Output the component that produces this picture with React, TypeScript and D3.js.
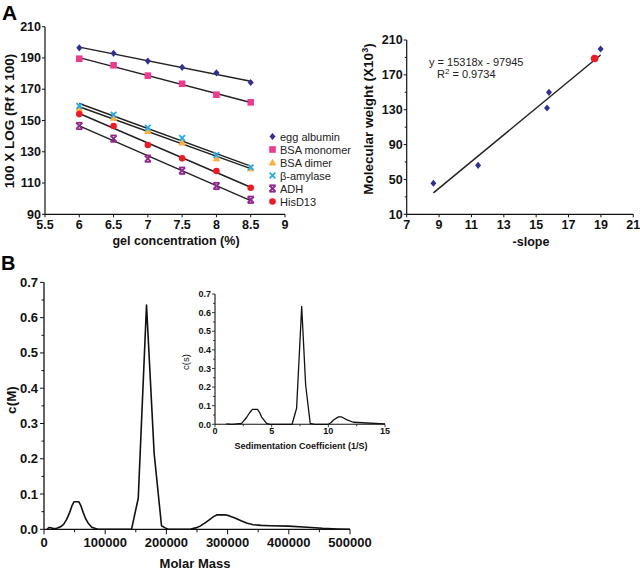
import React from 'react';
import * as d3 from 'd3';

const FONT = '"Liberation Sans", Arial, Helvetica, sans-serif';

// ---------- Panel A (left): gel concentration vs 100 x log(Rf x 100)
const gelConc = [6, 6.5, 7, 7.5, 8, 8.5];
const eggAlbumin = [196.5, 193, 188, 184, 180.5, 174.3];
const bsaMonomer = [189.5, 185.3, 178.7, 173.5, 166.5, 161.6];
const bsaDimer = [157.8, 151.8, 143.3, 136, 125.8, 119.4];
const betaAmylase = [159.3, 153.7, 145.4, 138.8, 127.9, 120];
const adh = [146.5, 138.4, 125.6, 117.9, 108.1, 99.3];
const hisD13 = [154.1, 146.5, 134.3, 125.8, 117.7, 107];
const seriesNames = ['egg albumin', 'BSA monomer', 'BSA dimer', 'β-amylase', 'ADH', 'HisD13'];
const seriesColors = ['#2E3192', '#EC3C8E', '#FBB040', '#27AAE1', '#92278F', '#ED1C24'];
const seriesMarkers = ['diamond', 'square', 'triangle', 'x', 'star', 'circle'];
const gelXTicks = [5.5, 6, 6.5, 7, 7.5, 8, 8.5, 9];
const logYTicks = [90, 110, 130, 150, 170, 190, 210];

// ---------- Panel A (right): -slope vs molecular weight
const negSlope = [8.65, 11.41, 15.67, 15.79, 18.98];
const molWeight = [45.6, 66.2, 132, 150, 199.7];
const hisNegSlope = [18.61];
const hisMolWeight = [188.7];
const fitSlope = 15318;
const fitIntercept = -97945;
const slopeXTicks = [7, 9, 11, 13, 15, 17, 19, 21];
const mwYTicks = [10, 50, 90, 130, 170, 210];

// ---------- Panel B: c(M) distribution
const molarMass = [5000, 8000, 12000, 15000, 21000, 27000, 32000, 37000, 42000, 46000, 49000, 57000, 60000, 64000, 68000, 72000, 78000, 88000, 143000, 154000, 167500, 180000, 192000, 198000, 203000, 228000, 240000, 248000, 255000, 262000, 270000, 277000, 283000, 296000, 303000, 312000, 322000, 332000, 342000, 355000, 370000, 400000, 430000, 455000, 480000, 500000];
const cM = [0, 0.005, 0.004, 0.002, 0.003, 0.007, 0.014, 0.028, 0.048, 0.068, 0.078, 0.078, 0.068, 0.048, 0.03, 0.018, 0.006, 0, 0, 0.088, 0.636, 0.215, 0.01, 0.004, 0, 0, 0.001, 0.004, 0.009, 0.017, 0.027, 0.036, 0.041, 0.041, 0.038, 0.032, 0.024, 0.017, 0.013, 0.011, 0.01, 0.009, 0.006, 0.003, 0.001, 0];
const massXTicks = [0, 100000, 200000, 300000, 400000, 500000];
const cYTicks = [0, 0.1, 0.2, 0.3, 0.4, 0.5, 0.6, 0.7];

// ---------- Inset: c(s) distribution
const sedCoef = [1.0, 1.5, 2.35, 2.8, 3.05, 3.3, 3.75, 3.95, 4.1, 4.55, 4.85, 6.8, 7.2, 7.65, 8.0, 8.4, 8.8, 10.0, 10.25, 10.45, 10.9, 11.15, 11.35, 11.6, 12.2, 13.4, 14.55, 15];
const cS = [0.002, 0.0, 0.005, 0.038, 0.062, 0.08, 0.08, 0.062, 0.04, 0.005, 0, 0, 0.086, 0.633, 0.21, 0.005, 0, 0, 0.01, 0.023, 0.04, 0.04, 0.034, 0.025, 0.011, 0.007, 0.004, 0.002];
const sXTicks = [0, 5, 10, 15];
const sYTicks = [0, 0.1, 0.2, 0.3, 0.4, 0.5, 0.6, 0.7];

function linFit(xs: number[], ys: number[]) {
  const mx = d3.mean(xs) as number;
  const my = d3.mean(ys) as number;
  let num = 0, den = 0;
  xs.forEach((x, i) => { num += (x - mx) * (ys[i] - my); den += (x - mx) * (x - mx); });
  const b = num / den;
  return { b, a: my - b * mx };
}

function Marker({ type, x, y, color }: { type: string; x: number; y: number; color: string }) {
  switch (type) {
    case 'diamond':
      return <polygon points={`${x},${y - 3.6} ${x + 3},${y} ${x},${y + 3.6} ${x - 3},${y}`} fill={color} />;
    case 'square':
      return <rect x={x - 3.3} y={y - 3.3} width={6.6} height={6.6} fill={color} />;
    case 'triangle':
      return <polygon points={`${x},${y - 4} ${x + 3.8},${y + 3} ${x - 3.8},${y + 3}`} fill={color} />;
    case 'x':
      return (
        <g stroke={color} strokeWidth={1.8}>
          <line x1={x - 2.8} y1={y - 2.8} x2={x + 2.8} y2={y + 2.8} />
          <line x1={x - 2.8} y1={y + 2.8} x2={x + 2.8} y2={y - 2.8} />
        </g>
      );
    case 'star':
      return (
        <g stroke={color} strokeWidth={1.8}>
          <line x1={x - 3} y1={y - 3} x2={x + 3} y2={y + 3} />
          <line x1={x - 3} y1={y + 3} x2={x + 3} y2={y - 3} />
          <line x1={x - 3} y1={y - 3.2} x2={x + 3} y2={y - 3.2} />
          <line x1={x - 3} y1={y + 3.2} x2={x + 3} y2={y + 3.2} />
        </g>
      );
    default:
      return <circle cx={x} cy={y} r={3.3} fill={color} />;
  }
}

export default function App() {
  // Panel A left
  const xA1 = d3.scaleLinear().domain([5.5, 9]).range([45, 285]);
  const yA1 = d3.scaleLinear().domain([90, 210]).range([214.3, 26.7]);
  const seriesA1 = [eggAlbumin, bsaMonomer, bsaDimer, betaAmylase, adh, hisD13];

  // Panel A right
  const xA2 = d3.scaleLinear().domain([7, 21]).range([406.7, 633.3]);
  const yA2 = d3.scaleLinear().domain([10, 210]).range([214.3, 40]);
  const fitX0 = d3.min(negSlope) as number;
  const fitX1 = d3.max(negSlope) as number;
  const fitY = (x: number) => (fitSlope * x + fitIntercept) / 1000;

  // Panel B
  const xB = d3.scaleLinear().domain([0, 500000]).range([44, 350]);
  const yB = d3.scaleLinear().domain([0, 0.7]).range([529.3, 282.4]);
  const lineB = d3.line<number>().x((d, i) => xB(molarMass[i])).y((d) => yB(d)).curve(d3.curveLinear);

  // Inset
  const xI = d3.scaleLinear().domain([0, 15]).range([215, 385]);
  const yI = d3.scaleLinear().domain([0, 0.7]).range([424.3, 294]);
  const lineI = d3.line<number>().x((d, i) => xI(sedCoef[i])).y((d) => yI(d)).curve(d3.curveLinear);

  const axisStroke = '#111';

  return (
    <svg width={640} height={573} style={{ position: 'absolute', left: 0, top: 0, background: '#fff' }} fontFamily={FONT}>
      <rect x={0} y={0} width={640} height={573} fill="#fff" />
      {/* Panel labels */}
      <text x={2} y={20} fontSize={21} fontWeight="bold" fill="#000">A</text>
      <text x={1} y={270} fontSize={20} fontWeight="bold" fill="#000">B</text>

      {/* ===== Panel A left ===== */}
      <g>
        <line x1={xA1(5.5)} y1={yA1(90)} x2={xA1(9)} y2={yA1(90)} stroke={axisStroke} strokeWidth={1.2} />
        <line x1={xA1(5.5)} y1={yA1(90)} x2={xA1(5.5)} y2={yA1(210)} stroke={axisStroke} strokeWidth={1.2} />
        {logYTicks.map((t) => (
          <g key={'ya1' + t}>
            <line x1={xA1(5.5) - 3} x2={xA1(5.5)} y1={yA1(t)} y2={yA1(t)} stroke={axisStroke} strokeWidth={1} />
            <text x={xA1(5.5) - 4} y={yA1(t) + 4.2} fontSize={12.5} fontWeight="bold" textAnchor="end" fill="#111">{t}</text>
          </g>
        ))}
        {gelXTicks.map((t) => (
          <g key={'xa1' + t}>
            <line x1={xA1(t)} x2={xA1(t)} y1={yA1(90)} y2={yA1(90) + 3} stroke={axisStroke} strokeWidth={1} />
            <text x={xA1(t)} y={yA1(90) + 14.2} fontSize={12.5} fontWeight="bold" textAnchor="middle" fill="#111">{t}</text>
          </g>
        ))}
        <text x={176} y={245} fontSize={12.5} fontWeight="bold" textAnchor="middle" fill="#111">gel concentration (%)</text>
        <text transform="translate(14,121) rotate(-90)" fontSize={13.5} fontWeight="bold" textAnchor="middle" fill="#111">100 X LOG (Rf X 100)</text>

        {seriesA1.map((ys, si) => {
          const { a, b } = linFit(gelConc, ys);
          const x0 = gelConc[0], x1 = gelConc[gelConc.length - 1];
          return (
            <line key={'fit' + si} x1={xA1(x0)} y1={yA1(a + b * x0)} x2={xA1(x1)} y2={yA1(a + b * x1)} stroke="#222" strokeWidth={1.5} />
          );
        })}
        {seriesA1.map((ys, si) =>
          ys.map((v, i) => (
            <Marker key={`m${si}-${i}`} type={seriesMarkers[si]} x={xA1(gelConc[i])} y={yA1(v)} color={seriesColors[si]} />
          ))
        )}
        {/* Legend */}
        {seriesNames.map((n, i) => (
          <g key={'lg' + i}>
            <Marker type={seriesMarkers[i]} x={272.5} y={136.5 + i * 13} color={seriesColors[i]} />
            <text x={280} y={136.5 + i * 13 + 4} fontSize={11} fill="#222">{n}</text>
          </g>
        ))}
      </g>

      {/* ===== Panel A right ===== */}
      <g>
        <line x1={xA2(7)} y1={yA2(10)} x2={xA2(21)} y2={yA2(10)} stroke={axisStroke} strokeWidth={1.2} />
        <line x1={xA2(7)} y1={yA2(10)} x2={xA2(7)} y2={yA2(210)} stroke={axisStroke} strokeWidth={1.2} />
        {d3.range(10, 211, 20).map((t) => (
          <line key={'ya2m' + t} x1={xA2(7) - (mwYTicks.includes(t) ? 3 : 2)} x2={xA2(7)} y1={yA2(t)} y2={yA2(t)} stroke={axisStroke} strokeWidth={1} />
        ))}
        {mwYTicks.map((t) => (
          <text key={'ya2' + t} x={xA2(7) - 4} y={yA2(t) + 4.2} fontSize={12.5} fontWeight="bold" textAnchor="end" fill="#111">{t}</text>
        ))}
        {slopeXTicks.map((t) => (
          <g key={'xa2' + t}>
            <line x1={xA2(t)} x2={xA2(t)} y1={yA2(10)} y2={yA2(10) + 3} stroke={axisStroke} strokeWidth={1} />
            <text x={xA2(t)} y={yA2(10) + 14.2} fontSize={12.5} fontWeight="bold" textAnchor="middle" fill="#111">{t}</text>
          </g>
        ))}
        <text x={531} y={246} fontSize={12.5} fontWeight="bold" textAnchor="middle" fill="#111">-slope</text>
        <text transform="translate(373,119) rotate(-90)" fontSize={13.5} fontWeight="bold" textAnchor="middle" fill="#111">
          Molecular weight (X10<tspan fontSize={9} dy={-5}>3</tspan><tspan dy={5}>)</tspan>
        </text>
        <line x1={xA2(fitX0)} y1={yA2(fitY(fitX0))} x2={xA2(fitX1)} y2={yA2(fitY(fitX1))} stroke="#222" strokeWidth={1.5} />
        {negSlope.map((s, i) => (
          <Marker key={'a2' + i} type="diamond" x={xA2(s)} y={yA2(molWeight[i])} color="#2E3192" />
        ))}
        {hisNegSlope.map((s, i) => (
          <circle key={'a2h' + i} cx={xA2(s)} cy={yA2(hisMolWeight[i])} r={3.8} fill="#ED1C24" />
        ))}
        <text x={429} y={66} fontSize={11} fill="#222">y = 15318x - 97945</text>
        <text x={437} y={78} fontSize={11} fill="#222">R<tspan fontSize={8} dy={-4}>2</tspan><tspan dy={4}> = 0.9734</tspan></text>
      </g>

      {/* ===== Panel B main ===== */}
      <g>
        <line x1={xB(0)} y1={yB(0)} x2={xB(500000)} y2={yB(0)} stroke={axisStroke} strokeWidth={1.3} />
        <line x1={xB(0)} y1={yB(0)} x2={xB(0)} y2={yB(0.7)} stroke={axisStroke} strokeWidth={1.3} />
        {d3.range(0, 0.701, 0.05).map((t, i) => (
          <line key={'ybm' + i} x1={xB(0) - (i % 2 === 0 ? 4 : 2.5)} x2={xB(0)} y1={yB(t)} y2={yB(t)} stroke={axisStroke} strokeWidth={1} />
        ))}
        {cYTicks.map((t) => (
          <text key={'yb' + t} x={xB(0) - 6} y={yB(t) + 4.5} fontSize={13} fontWeight="bold" textAnchor="end" fill="#111">{t.toFixed(1)}</text>
        ))}
        {d3.range(0, 500001, 50000).map((t, i) => (
          <line key={'xbm' + i} x1={xB(t)} x2={xB(t)} y1={yB(0)} y2={yB(0) + (i % 2 === 0 ? 5 : 3)} stroke={axisStroke} strokeWidth={1} />
        ))}
        {massXTicks.map((t) => (
          <text key={'xb' + t} x={xB(t)} y={547} fontSize={13} fontWeight="bold" textAnchor="middle" fill="#111">{t}</text>
        ))}
        <text x={195} y={568} fontSize={13} fontWeight="bold" textAnchor="middle" fill="#111">Molar Mass</text>
        <text transform="translate(16,400) rotate(-90)" fontSize={13.5} fontWeight="bold" textAnchor="middle" fill="#111">c(M)</text>
        <path d={lineB(cM) || ''} fill="none" stroke="#111" strokeWidth={1.6} strokeLinejoin="round" />
      </g>

      {/* ===== Inset ===== */}
      <g>
        <line x1={xI(0)} y1={yI(0)} x2={xI(15)} y2={yI(0)} stroke={axisStroke} strokeWidth={1.1} />
        <line x1={xI(0)} y1={yI(0)} x2={xI(0)} y2={yI(0.7)} stroke={axisStroke} strokeWidth={1.1} />
        {d3.range(0, 0.701, 0.05).map((t, i) => (
          <line key={'yim' + i} x1={xI(0) - (i % 2 === 0 ? 3 : 2)} x2={xI(0)} y1={yI(t)} y2={yI(t)} stroke={axisStroke} strokeWidth={0.8} />
        ))}
        {sYTicks.map((t) => (
          <text key={'yi' + t} x={xI(0) - 4} y={yI(t) + 3.2} fontSize={9} fontWeight="bold" textAnchor="end" fill="#111">{t.toFixed(1)}</text>
        ))}
        {d3.range(0, 15.01, 2.5).map((t, i) => (
          <line key={'xim' + i} x1={xI(t)} x2={xI(t)} y1={yI(0)} y2={yI(0) + (i % 2 === 0 ? 3 : 2)} stroke={axisStroke} strokeWidth={0.8} />
        ))}
        {sXTicks.map((t) => (
          <text key={'xi' + t} x={xI(t)} y={434} fontSize={9} fontWeight="bold" textAnchor="middle" fill="#111">{t}</text>
        ))}
        <text x={301} y={449} fontSize={9} fontWeight="bold" textAnchor="middle" fill="#111">Sedimentation Coefficient (1/S)</text>
        <text transform="translate(189,362) rotate(-90)" fontSize={9.5} textAnchor="middle" fill="#111">c(s)</text>
        <path d={lineI(cS) || ''} fill="none" stroke="#111" strokeWidth={1.3} strokeLinejoin="round" />
      </g>
    </svg>
  );
}
